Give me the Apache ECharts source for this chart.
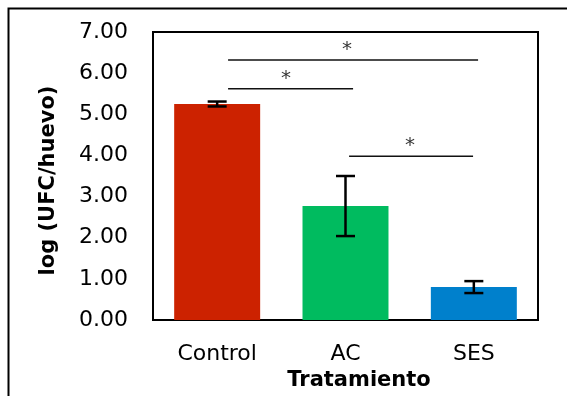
<!DOCTYPE html>
<html>
<head>
<meta charset="utf-8">
<script src="https://cdn.jsdelivr.net/npm/echarts@6/dist/echarts.min.js"></script>
<style>html,body{margin:0;padding:0;background:#fff}#c{width:567px;height:396px}</style>
</head>
<body>
<div id="c"></div>
<script>
var categories = ['Control', 'AC', 'SES'];
var means = [5.25, 2.77, 0.80];
var errors = [0.06, 0.73, 0.145];
var barColors = ['#CC2200', '#00BB5F', '#0080CC'];
var yTicks = [0, 1, 2, 3, 4, 5, 6, 7];
var sigX1 = [0.085, 0.085, 1.028];
var sigX2 = [2.033, 1.059, 1.994];
var sigY = [6.32, 5.62, 3.98];
var starX = [1.012, 0.537, 1.503];
var starY = [6.32, 5.62, 3.98];

var chart = echarts.init(document.getElementById('c'), null, {renderer: 'canvas'});
var font = 'DejaVu Sans';

var series = [];
series.push({
  type: 'bar', xAxisIndex: 0, yAxisIndex: 0, barWidth: '67%',
  data: means.map(function (v, i) { return {value: v, itemStyle: {color: barColors[i]}}; }),
  z: 2
});
series.push({
  type: 'custom', xAxisIndex: 0, yAxisIndex: 0, z: 5,
  data: means.map(function (v, i) { return [i, v - errors[i], v + errors[i]]; }),
  renderItem: function (params, api) {
    var lo = api.coord([api.value(0), api.value(1)]);
    var hi = api.coord([api.value(0), api.value(2)]);
    var hw = 9.5;
    var st = {stroke: '#000', lineWidth: 2.5};
    return {type: 'group', children: [
      {type: 'line', shape: {x1: lo[0], y1: lo[1], x2: hi[0], y2: hi[1]}, style: st},
      {type: 'line', shape: {x1: lo[0] - hw, y1: lo[1], x2: lo[0] + hw, y2: lo[1]}, style: st},
      {type: 'line', shape: {x1: hi[0] - hw, y1: hi[1], x2: hi[0] + hw, y2: hi[1]}, style: st}
    ]};
  }
});
for (var k = 0; k < sigY.length; k++) {
  series.push({
    type: 'line', xAxisIndex: 1, yAxisIndex: 0, symbol: 'none', silent: true,
    lineStyle: {color: '#111', width: 1.6},
    data: [[sigX1[k], sigY[k]], [sigX2[k], sigY[k]]], z: 4
  });
}
series.push({
  type: 'scatter', xAxisIndex: 1, yAxisIndex: 0, symbolSize: 0, silent: true,
  data: starX.map(function (x, i) { return [x, starY[i]]; }),
  label: {show: true, position: 'top', distance: 0, formatter: '*', color: '#000',
    fontFamily: font, fontSize: 20}
});

chart.setOption({
  animation: false,
  backgroundColor: '#fff',
  grid: {left: 153, top: 32, right: 29, bottom: 74, show: true, borderColor: '#000', borderWidth: 2, backgroundColor: 'transparent'},
  graphic: [{type: 'rect', left: 6, top: 6, shape: {width: 620, height: 420},
    style: {fill: 'none', stroke: '#000', lineWidth: 2}, z: 100}],
  xAxis: [{
    type: 'category', data: categories, position: 'bottom',
    axisLine: {show: false}, axisTick: {show: false},
    axisLabel: {color: '#000', fontFamily: font, fontSize: 22, margin: 23},
    name: 'Tratamiento', nameLocation: 'middle', nameGap: 50,
    nameTextStyle: {color: '#000', fontFamily: font, fontSize: 21, fontWeight: 'bold', padding: [0, 0, 0, 27]}
  }, {
    type: 'value', min: -0.5, max: 2.5, show: false
  }],
  yAxis: [{
    type: 'value', min: yTicks[0], max: yTicks[yTicks.length - 1], interval: 1,
    axisLine: {show: false}, axisTick: {show: false}, splitLine: {show: false},
    axisLabel: {color: '#000', fontFamily: font, fontSize: 22, margin: 25,
      formatter: function (v) { return v.toFixed(2); }},
    name: 'log (UFC/huevo)', nameLocation: 'middle', nameGap: 94, nameRotate: 90,
    nameTextStyle: {color: '#000', fontFamily: font, fontSize: 21, fontWeight: 'bold', padding: [0, 9, 0, 0]}
  }],
  series: series
});
</script>
</body>
</html>
